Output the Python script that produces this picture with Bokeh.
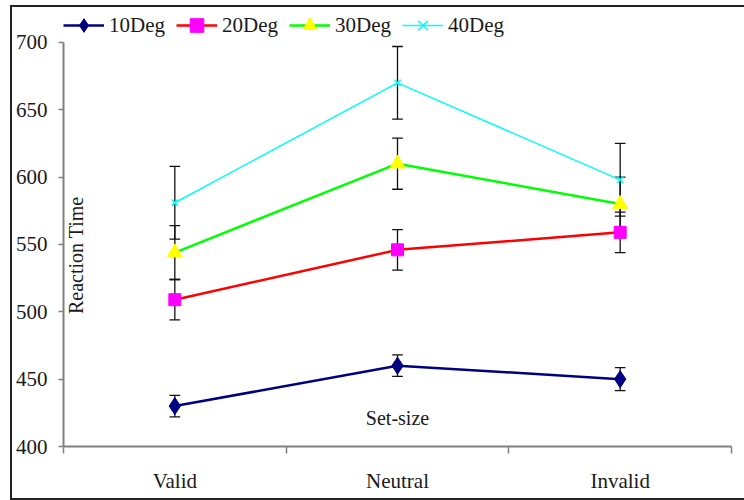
from bokeh.plotting import figure
from bokeh.layouts import column
from bokeh.models import (FixedTicker, Legend, LegendItem, Label, Range1d)
from bokeh.embed import file_html
from bokeh.resources import INLINE

categories = ["Valid", "Neutral", "Invalid"]
series_names = ["10Deg", "20Deg", "30Deg", "40Deg"]
rt_10 = [430, 460, 450]
rt_20 = [509, 546, 559]
rt_30 = [544, 610, 580]
rt_40 = [581, 670, 598]
err_10 = [8, 8, 8.5]
err_20 = [15, 15, 15]
err_30 = [20, 19, 20]
err_40 = [27, 27, 27]
y_ticks = [400, 450, 500, 550, 600, 650, 700]

FONT = "Liberation Serif"
TXT = "#1a1a1a"

# canvas starts at x=12, y=7 inside a bordered box
p = figure(width=732, height=491, output_backend="svg", toolbar_location=None,
           x_range=Range1d(0, 3), y_range=Range1d(400, 725.2),
           min_border_left=50, min_border_right=13, min_border_top=1,
           min_border_bottom=52)
p.grid.visible = False
p.outline_line_color = None
p.background_fill_color = "white"
p.border_fill_color = "white"

xs = [i + 0.5 for i in range(len(categories))]

# axes
xa = p.xaxis[0]
xa.ticker = FixedTicker(ticks=xs, minor_ticks=[0, 1, 2, 3])
xa.major_label_overrides = {x: c for x, c in zip(xs, categories)}
xa.major_tick_line_color = None
xa.major_tick_out = 0
xa.major_tick_in = 0
xa.minor_tick_out = 7
xa.minor_tick_in = 0
xa.minor_tick_line_color = "#808080"
xa.minor_tick_line_width = 1.5
xa.axis_line_color = "#808080"
xa.axis_line_width = 2
xa.major_label_standoff = 15
xa.major_label_text_font = FONT
xa.major_label_text_font_size = "21px"
xa.major_label_text_color = TXT

ya = p.yaxis[0]
ya.ticker = FixedTicker(ticks=y_ticks)
ya.bounds = (400, 700)
ya.minor_tick_line_color = None
ya.major_tick_out = 5
ya.major_tick_in = 0
ya.major_tick_line_color = "#808080"
ya.major_tick_line_width = 1.5
ya.axis_line_color = "#808080"
ya.axis_line_width = 2
ya.major_label_standoff = 11
ya.major_label_text_font = FONT
ya.major_label_text_font_size = "21px"
ya.major_label_text_color = TXT

# error bars (drawn first so markers sit on top)
cap = 0.024
for vals, errs in [(rt_10, err_10), (rt_20, err_20), (rt_30, err_30), (rt_40, err_40)]:
    lo = [v - e for v, e in zip(vals, errs)]
    hi = [v + e for v, e in zip(vals, errs)]
    p.segment(x0=xs, y0=lo, x1=xs, y1=hi, line_color="#111111", line_width=1.3)
    p.segment(x0=[x - cap for x in xs], y0=lo, x1=[x + cap for x in xs], y1=lo,
              line_color="#111111", line_width=1.3)
    p.segment(x0=[x - cap for x in xs], y0=hi, x1=[x + cap for x in xs], y1=hi,
              line_color="#111111", line_width=1.3)

items = []
specs = [
    (rt_10, "#000080", 2.5, "diamond", "#000080", 17),
    (rt_20, "#FF0000", 2.5, "square", "#FF00FF", 12),
    (rt_30, "#00FF00", 2.5, "triangle", "#FFFF00", 15),
    (rt_40, "#00FFFF", 1.5, "x", "#00FFFF", 9),
]
for name, (vals, lc, lw, mk, mc, ms) in zip(series_names, specs):
    r1 = p.line(xs, vals, line_color=lc, line_width=lw)
    if mk == "x":
        r2 = p.scatter(xs, vals, marker=mk, size=ms, line_color=mc, line_width=1.5)
    else:
        r2 = p.scatter(xs, vals, marker=mk, size=ms, fill_color=mc, line_color=mc)
    items.append(LegendItem(label=name, renderers=[r1, r2]))

legend = Legend(items=items, orientation="horizontal", location="top_left",
                label_text_font=FONT, label_text_font_size="21px",
                label_text_color=TXT, label_height=34,
                glyph_width=41, glyph_height=34, label_standoff=5, spacing=11,
                padding=0, margin=0, border_line_color=None,
                background_fill_alpha=0)
p.add_layout(legend)

p.add_layout(Label(x=0.058, y=542, text="Reaction Time", angle=90, angle_units="deg",
                   text_font=FONT, text_font_size="20px", text_color=TXT,
                   text_align="center", text_baseline="middle"))
p.add_layout(Label(x=1.5, y=420.8, text="Set-size",
                   text_font=FONT, text_font_size="20px", text_color=TXT,
                   text_align="center", text_baseline="middle"))

layout = column(p, styles={"margin-left": "10px", "margin-top": "5px",
                           "border-left": "2px solid #222222",
                           "border-top": "2px solid #222222",
                           "border-bottom": "2px solid #222222"})

open("out.html", "w").write(file_html(layout, INLINE))
